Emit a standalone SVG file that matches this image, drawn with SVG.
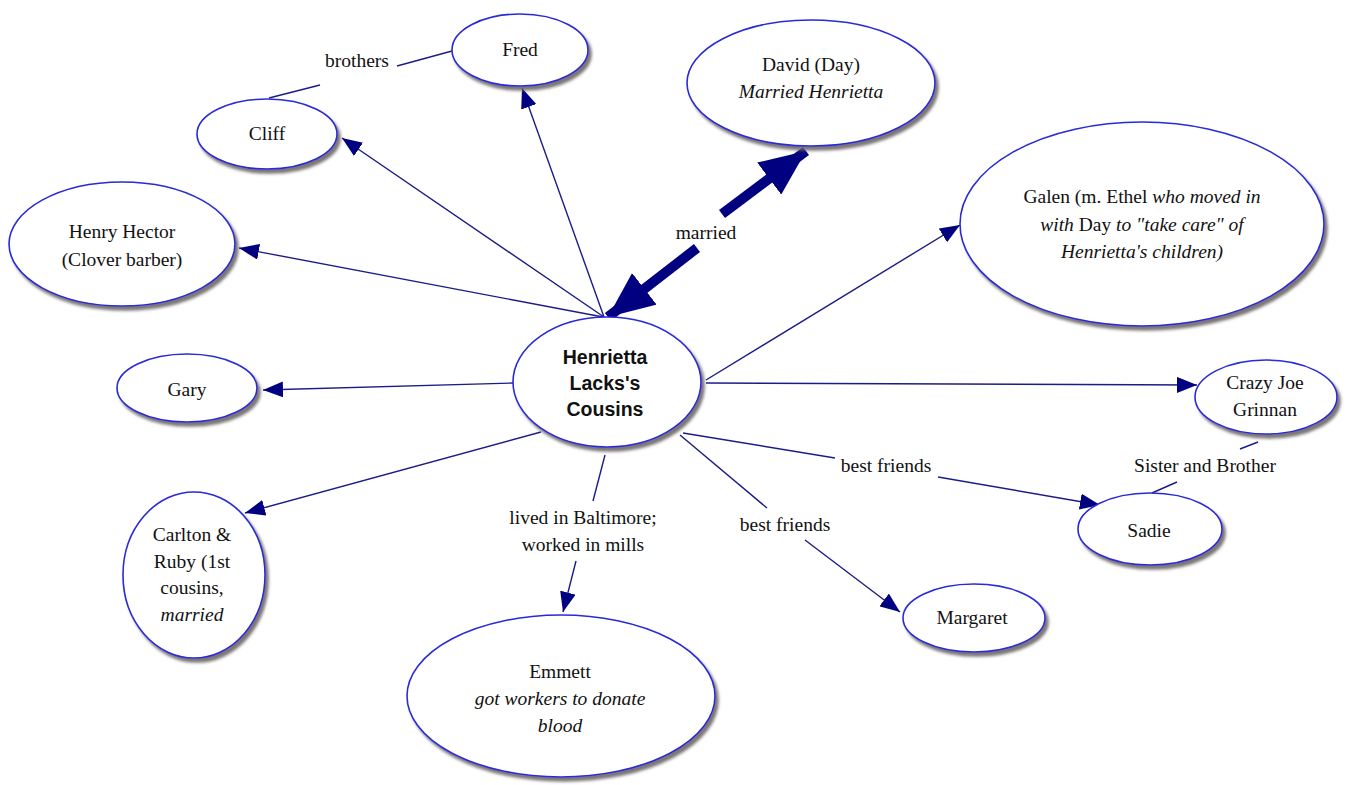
<svg xmlns="http://www.w3.org/2000/svg" width="1346" height="785" viewBox="0 0 1346 785">
<style>
.n{fill:#fff;stroke:#2a2ad6;stroke-width:1.6;filter:url(#sh)}
.t{font-family:"Liberation Serif","Times New Roman",serif;font-size:19.5px;fill:#111;text-anchor:middle}
.i{font-style:italic}
.b{font-family:"Liberation Sans",Arial,sans-serif;font-weight:bold;font-size:19.5px;fill:#111;text-anchor:middle}
.c{fill:none;stroke:#1c1c86;stroke-width:1.4}
.a{marker-end:url(#ah)}
.m{fill:none;stroke:#000080;stroke-width:10;marker-end:url(#big)}
</style>
<defs>
<filter id="sh" x="-10%" y="-10%" width="125%" height="130%">
<feDropShadow dx="3" dy="4" stdDeviation="1.5" flood-color="#6e6666" flood-opacity="0.9"/>
</filter>
<marker id="ah" markerUnits="userSpaceOnUse" markerWidth="22" markerHeight="16" refX="20" refY="8" orient="auto">
<path d="M0,0 L20,8 L0,16 z" fill="#000080"/>
</marker>
<marker id="big" markerUnits="userSpaceOnUse" markerWidth="48" markerHeight="40" refX="46" refY="20" orient="auto">
<path d="M0,0 L46,20 L0,40 z" fill="#000080"/>
</marker>
</defs>
<rect width="1346" height="785" fill="#fff"/>
<g id="connectors">
<path class="c" d="M452,51 L397,66"/>
<path class="c" d="M320,85 L269,98"/>
<path class="c a" d="M604,317 L522,88"/>
<path class="c a" d="M604,317 L342,138"/>
<path class="c a" d="M603,317 L239,248"/>
<path class="c a" d="M513,383 L263,390"/>
<path class="c a" d="M541,432 L245,513"/>
<path class="c" d="M605,455 L593,501"/>
<path class="c a" d="M576,561 L563,612"/>
<path class="c" d="M680,435 L767,508"/>
<path class="c a" d="M805,540 L900,612"/>
<path class="c" d="M683,433 L835,458"/>
<path class="c a" d="M938,477 L1100,505"/>
<path class="c a" d="M706,383 L1197,385"/>
<path class="c a" d="M706,380 L960,225"/>
<path class="c" d="M1258,442 L1240,449"/>
<path class="c" d="M1177,482 L1152,493"/>
<path class="m" d="M722,214 L806,151"/>
<path class="m" d="M697,248 L608,317"/>
<text class="t" x="357" y="67">brothers</text>
<text class="t" x="706" y="239">married</text>
<text class="t" x="583" y="524">lived in Baltimore;</text>
<text class="t" x="583" y="551">worked in mills</text>
<text class="t" x="785" y="531">best friends</text>
<text class="t" x="886" y="472">best friends</text>
<text class="t" x="1205" y="472">Sister and Brother</text>
</g>
<g id="center">
<ellipse class="n" cx="607" cy="382" rx="94" ry="65"/>
<text class="b" x="605" y="364">Henrietta</text>
<text class="b" x="605" y="390">Lacks's</text>
<text class="b" x="605" y="416">Cousins</text>
</g>
<g id="fred">
<ellipse class="n" cx="520" cy="50" rx="68" ry="36"/>
<text class="t" x="520" y="56">Fred</text>
</g>
<g id="cliff">
<ellipse class="n" cx="267" cy="134" rx="70" ry="35"/>
<text class="t" x="267" y="140">Cliff</text>
</g>
<g id="david">
<ellipse class="n" cx="811" cy="83" rx="124" ry="63"/>
<text class="t" x="811" y="71">David (Day)</text>
<text class="t i" x="811" y="98">Married Henrietta</text>
</g>
<g id="henry">
<ellipse class="n" cx="122" cy="244" rx="113" ry="62"/>
<text class="t" x="122" y="238">Henry Hector</text>
<text class="t" x="122" y="266">(Clover barber)</text>
</g>
<g id="galen">
<ellipse class="n" cx="1142" cy="224" rx="182" ry="102"/>
<text class="t" x="1142" y="203">Galen (m. Ethel <tspan class="i">who moved in</tspan></text>
<text class="t" x="1142" y="231"><tspan class="i">with </tspan>Day<tspan class="i"> to "take care" of</tspan></text>
<text class="t i" x="1142" y="258">Henrietta's children)</text>
</g>
<g id="gary">
<ellipse class="n" cx="187" cy="388" rx="70" ry="34"/>
<text class="t" x="187" y="396">Gary</text>
</g>
<g id="crazyjoe">
<ellipse class="n" cx="1266" cy="397" rx="71" ry="37"/>
<text class="t" x="1265" y="389">Crazy Joe</text>
<text class="t" x="1265" y="416">Grinnan</text>
</g>
<g id="carlton">
<ellipse class="n" cx="194" cy="575" rx="71" ry="83"/>
<text class="t" x="192" y="541">Carlton &amp;</text>
<text class="t" x="192" y="568">Ruby (1st</text>
<text class="t" x="192" y="594">cousins,</text>
<text class="t i" x="192" y="621">married</text>
</g>
<g id="emmett">
<ellipse class="n" cx="561" cy="696" rx="154" ry="81"/>
<text class="t" x="560" y="678">Emmett</text>
<text class="t i" x="560" y="705">got workers to donate</text>
<text class="t i" x="560" y="732">blood</text>
</g>
<g id="margaret">
<ellipse class="n" cx="974" cy="618" rx="71" ry="34"/>
<text class="t" x="972" y="624">Margaret</text>
</g>
<g id="sadie">
<ellipse class="n" cx="1150" cy="529" rx="72" ry="36"/>
<text class="t" x="1149" y="537">Sadie</text>
</g>
</svg>
